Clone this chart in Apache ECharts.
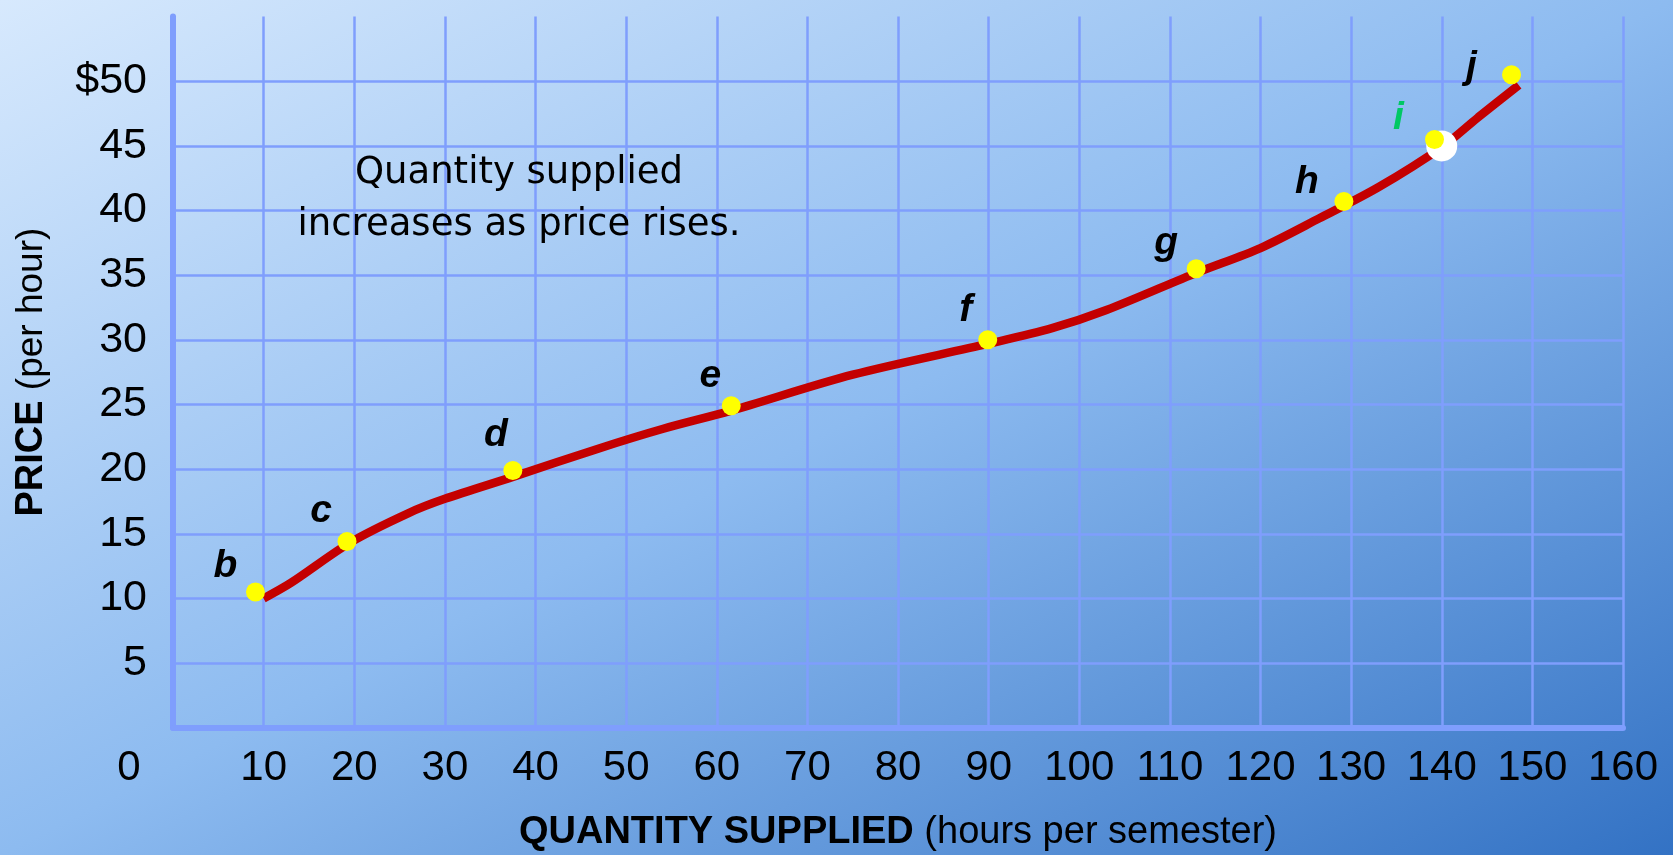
<!DOCTYPE html>
<html>
<head>
<meta charset="utf-8">
<script src="https://cdn.jsdelivr.net/npm/echarts@6/dist/echarts.min.js"></script>
<style>
  html, body { margin: 0; padding: 0; }
  #chart { width: 1673px; height: 855px; }
</style>
</head>
<body>
<div id="chart"></div>
<script>
// ---- data ----
const xTickValues = [0, 10, 20, 30, 40, 50, 60, 70, 80, 90, 100, 110, 120, 130, 140, 150, 160];
const xTickLabels = ['0', '10', '20', '30', '40', '50', '60', '70', '80', '90', '100', '110', '120', '130', '140', '150', '160'];
const yTickValues = [5, 10, 15, 20, 25, 30, 35, 40, 45, 50];
const yTickLabels = ['5', '10', '15', '20', '25', '30', '35', '40', '45', '$50'];

const pointLetters = ['b', 'c', 'd', 'e', 'f', 'g', 'h', 'i', 'j'];
const pointQuantity = [9.1, 19.2, 37.5, 61.6, 89.9, 112.9, 129.2, 139.2, 147.7];
const pointPrice = [10.5, 14.4, 19.9, 24.9, 30.0, 35.5, 40.7, 45.5, 50.5];

const highlightQuantity = [140];
const highlightPrice = [45];

const curveQuantity = [10, 13, 19.5, 26, 30, 37.5, 47, 54, 61.5, 75, 90, 97, 103, 113, 120, 126.5, 133, 140, 144, 148.5];
const curvePrice = [10, 11.2, 14.3, 16.6, 17.7, 19.4, 21.6, 23.1, 24.5, 27.3, 29.7, 30.9, 32.3, 35.2, 37.1, 39.4, 41.8, 44.9, 47.2, 49.7];

const annotationLines = ['Quantity supplied', 'increases as price rises.'];
const xTitleBold = 'QUANTITY SUPPLIED';
const xTitleRest = ' (hours per semester)';
const yTitleBold = 'PRICE';
const yTitleRest = ' (per hour)';

// ---- styles (not data) ----
const labelOffsets = {
  b: [-30, -26], c: [-26, -30], d: [-17, -35], e: [-21, -30], f: [-22, -30],
  g: [-30, -25], h: [-37, -19], i: [-36, -21], j: [-40, -8]
};
const labelColors = { i: '#00c864' };
const gridColor = '#7f9efd';
const sansFont = '"Liberation Sans", Arial, Helvetica, sans-serif';

const chart = echarts.init(document.getElementById('chart'), null, { renderer: 'canvas' });

const curveData = curveQuantity.map((q, k) => [q, curvePrice[k]]);
const pointData = pointQuantity.map((q, k) => {
  const letter = pointLetters[k];
  return {
    value: [q, pointPrice[k]],
    name: letter,
    label: {
      offset: labelOffsets[letter],
      color: labelColors[letter] || '#000'
    }
  };
});
const highlightData = highlightQuantity.map((q, k) => [q, highlightPrice[k]]);

const xLabelMap = {};
xTickValues.forEach((v, k) => { xLabelMap[v] = xTickLabels[k]; });
const yLabelMap = {};
yTickValues.forEach((v, k) => { yLabelMap[v] = yTickLabels[k]; });

const option = {
  animation: false,
  backgroundColor: {
    type: 'linear',
    x: 0, y: 0, x2: 693 / 1673, y2: 1356 / 855,
    colorStops: [
      { offset: 0, color: '#d7e9fd' },
      { offset: 0.5, color: '#8dbbf0' },
      { offset: 1, color: '#3372c4' }
    ]
  },
  grid: {
    left: 173, right: 50, top: 16.6, bottom: 127.3,
    containLabel: false,
    outerBoundsMode: 'none'
  },
  xAxis: {
    type: 'value',
    min: 0, max: 160, interval: 10,
    name: '{b|' + xTitleBold + '}{r|' + xTitleRest + '}',
    nameLocation: 'middle',
    nameGap: 86,
    nameTextStyle: {
      rich: {
        b: { fontFamily: sansFont, fontSize: 38, fontWeight: 'bold', color: '#000' },
        r: { fontFamily: sansFont, fontSize: 38, color: '#000' }
      }
    },
    axisLine: { show: true, onZero: false, lineStyle: { color: gridColor, width: 6 } },
    axisTick: { show: false },
    splitLine: { show: true, lineStyle: { color: gridColor, width: 2.5 } },
    axisLabel: {
      margin: 20,
      fontFamily: sansFont,
      fontSize: 42,
      color: '#000',
      formatter: function (v) {
        const t = xLabelMap[v];
        if (t === undefined) return '';
        return v === 0 ? '{z|' + t + '}' : t;
      },
      rich: {
        z: { fontFamily: sansFont, fontSize: 42, color: '#000', padding: [0, 88, 0, 0] }
      }
    }
  },
  yAxis: {
    type: 'value',
    min: 0, max: 55, interval: 5,
    name: '{b|' + yTitleBold + '}{r|' + yTitleRest + '}',
    nameLocation: 'middle',
    nameGap: 122,
    nameTextStyle: {
      rich: {
        b: { fontFamily: sansFont, fontSize: 38, fontWeight: 'bold', color: '#000' },
        r: { fontFamily: sansFont, fontSize: 37, color: '#000' }
      }
    },
    axisLine: { show: true, onZero: false, lineStyle: { color: gridColor, width: 6 } },
    axisTick: { show: false },
    splitLine: { show: true, showMaxLine: false, lineStyle: { color: gridColor, width: 2.5 } },
    axisLabel: {
      margin: 26,
      fontFamily: sansFont,
      fontSize: 43,
      color: '#000',
      formatter: function (v) {
        const t = yLabelMap[v];
        return t === undefined ? '' : t;
      }
    }
  },
  graphic: [
    {
      type: 'text',
      x: 519, y: 199,
      style: {
        text: annotationLines.join('\n'),
        fontFamily: '"DejaVu Sans", sans-serif',
        fontSize: 37,
        lineHeight: 52,
        fill: '#000',
        align: 'center',
        verticalAlign: 'middle'
      },
      z: 5
    }
  ],
  series: [
    {
      type: 'line',
      data: curveData,
      smooth: 0.3,
      showSymbol: false,
      symbol: 'none',
      lineStyle: { color: '#c40000', width: 8.5, cap: 'butt' },
      z: 3
    },
    {
      type: 'scatter',
      data: highlightData,
      symbol: 'circle',
      symbolSize: 31,
      itemStyle: { color: '#ffffff', opacity: 1 },
      z: 4
    },
    {
      type: 'scatter',
      data: pointData,
      symbol: 'circle',
      symbolSize: 19,
      itemStyle: { color: '#ffff00', opacity: 1 },
      label: {
        show: true,
        position: 'inside',
        formatter: '{b}',
        fontFamily: sansFont,
        fontStyle: 'italic',
        fontWeight: 'bold',
        fontSize: 39,
        color: '#000'
      },
      z: 5
    }
  ]
};

chart.setOption(option);
</script>
</body>
</html>
